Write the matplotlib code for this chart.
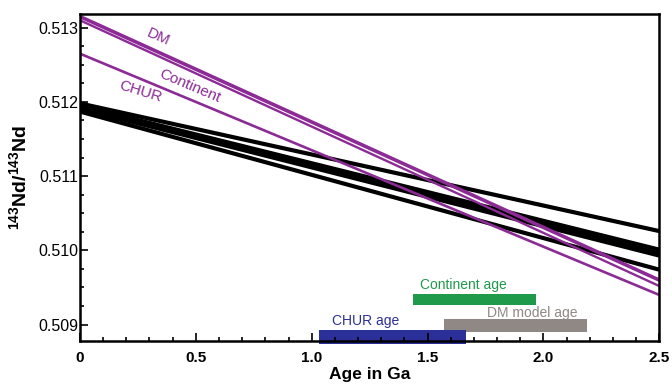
import matplotlib
matplotlib.use("Agg")
import matplotlib.pyplot as plt
from matplotlib.ticker import MultipleLocator, FixedLocator

# reservoir evolution lines: value today (0 Ga) and at 2.5 Ga
ages = [0.0, 2.5]
dm = [0.51315, 0.50960]
continent = [0.51310, 0.50952]
chur = [0.51265, 0.50940]

# sample evolution lines
samples = [
    [0.51198, 0.51026],
    [0.51195, 0.51001],
    [0.51193, 0.50996],
    [0.51191, 0.50993],
    [0.51187, 0.50974],
]

# model age ranges (Ga) and bar extents in ratio units
bar_names = ['Continent age', 'DM model age', 'CHUR age']
bar_start = [1.438, 1.569, 1.032]
bar_end = [1.967, 2.188, 1.664]
bar_low = [0.509262, 0.508903, 0.50874]
bar_high = [0.509419, 0.509070, 0.508926]
bar_colors = ['#1f9a4a', '#8f8884', '#2b2f98']
bar_text_x = [1.653, 1.95, 1.235]
bar_text_y = [0.509535, 0.509160, 0.509050]

purple = '#8c2a96'
plt.rcParams['font.family'] = ['Liberation Sans', 'DejaVu Sans']

fig = plt.figure(figsize=(6.72, 3.87), dpi=100)
ax = fig.add_axes([0.119, 0.119, 0.862, 0.844])

for s in samples:
    ax.plot(ages, s, color='black', lw=3.0, solid_capstyle='butt')

ax.plot(ages, dm, color=purple, lw=2.6, solid_capstyle='butt')
ax.plot(ages, continent, color=purple, lw=1.7, solid_capstyle='butt')
ax.plot(ages, chur, color=purple, lw=1.9, solid_capstyle='butt')

ax.text(0.337, 0.512872, 'DM', color=purple, fontsize=11, rotation=-24,
        ha='center', va='center')
ax.text(0.475, 0.512215, 'Continent', color=purple, fontsize=11, rotation=-23,
        ha='center', va='center')
ax.text(0.259, 0.512134, 'CHUR', color=purple, fontsize=11, rotation=-17,
        ha='center', va='center')

for i in range(len(bar_names)):
    ax.fill_between([bar_start[i], bar_end[i]], bar_low[i], bar_high[i],
                    color=bar_colors[i], lw=0, clip_on=False)
    ax.text(bar_text_x[i], bar_text_y[i], bar_names[i], color=bar_colors[i],
            fontsize=10, ha='center', va='center')

ax.set_xlim(0, 2.5)
ax.set_ylim(0.50878, 0.51318)

ax.xaxis.set_major_locator(FixedLocator([0, 0.5, 1.0, 1.5, 2.0, 2.5]))
ax.xaxis.set_minor_locator(MultipleLocator(0.1))
ax.set_xticklabels(['0', '0.5', '1.0', '1.5', '2.0', '2.5'],
                   fontweight='bold', fontsize=11)
ax.yaxis.set_major_locator(FixedLocator([0.509, 0.510, 0.511, 0.512, 0.513]))
ax.yaxis.set_minor_locator(MultipleLocator(0.00025))
ax.set_yticklabels(['0.509', '0.510', '0.511', '0.512', '0.513'], fontsize=11.5)

ax.tick_params(which='both', direction='in', width=1.2)
ax.tick_params(which='major', length=6)
ax.tick_params(which='minor', length=3)
ax.tick_params(axis='y', pad=1)
ax.tick_params(axis='x', pad=7)

for sp in ax.spines.values():
    sp.set_linewidth(1.8)

ax.set_xlabel('Age in Ga', fontweight='bold', fontsize=12.5, labelpad=2)
ax.set_ylabel(r'$\mathregular{^{143}}$Nd/$\mathregular{^{143}}$Nd', fontweight='bold',
              fontsize=14, labelpad=6)

fig.savefig('out.png', dpi=100)
